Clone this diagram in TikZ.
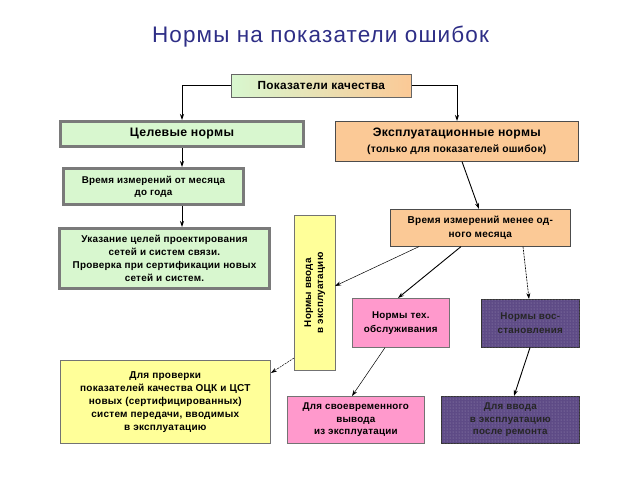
\documentclass[tikz,border=0pt]{standalone}
\usepackage{fontspec}
\setmainfont[LetterSpace=2.5]{Liberation Sans}
\newfontfamily\titlefont[LetterSpace=5]{Liberation Sans}
\usetikzlibrary{arrows.meta,patterns}
\definecolor{titleblue}{HTML}{2E2E86}
\definecolor{lgreen}{HTML}{D8F7CF}
\definecolor{peach}{HTML}{FBC996}
\definecolor{lyellow}{HTML}{FFFF99}
\definecolor{lpink}{HTML}{FF99CC}
\definecolor{dpurple}{HTML}{5E4B86}
\definecolor{gborder}{HTML}{7A7A7A}
\begin{document}
\begin{tikzpicture}[x=1pt,y=1pt,
  every node/.style={font=\bfseries\fontsize{9.8}{12}\selectfont, align=center, inner sep=0pt, anchor=north west},
  greenbox/.style={draw=gborder, line width=3pt, fill=lgreen},
  peachbox/.style={draw=black!70, line width=0.6pt, fill=peach},
  yellowbox/.style={draw=black!55, line width=0.6pt, fill=lyellow},
  pinkbox/.style={draw=black!55, line width=0.6pt, fill=lpink},
  purplebox/.style={draw=black!80, line width=0.6pt, fill=dpurple, text=black!85,
     postaction={pattern=dots, pattern color=dpurple!60!white}},
  arr/.style={-{Stealth[length=6pt,width=4pt]}, line width=0.9pt},
  thinarr/.style={-{Stealth[length=6pt,width=4pt]}, line width=0.5pt},
  dasharr/.style={-{Stealth[length=6pt,width=4pt]}, line width=0.7pt, dash pattern=on 2pt off 1pt}]
\useasboundingbox (0,0) rectangle (640,-480);
\node[font=\titlefont\fontsize{22.5}{26}\selectfont, text=titleblue, anchor=center] (title) at (320.5,-37) {Нормы на показатели ошибок};

\node[draw=black!60, line width=0.6pt, left color=lgreen, right color=peach, minimum width=180pt, minimum height=23pt, font=\bfseries\fontsize{11.8}{13}\selectfont] (pk) at (231,-74) {Показатели качества};
\node[greenbox, minimum width=243pt, minimum height=25pt, font=\bfseries\fontsize{12.3}{13}\selectfont] (cel) at (59,-120) {Целевые нормы};
\node[peachbox, minimum width=243pt, minimum height=40pt, font=\bfseries\fontsize{12.2}{15.5}\selectfont] (exp) at (335,-121) {Эксплуатационные нормы\\{\fontsize{10.3}{11}\selectfont(только для показателей ошибок)}};
\node[greenbox, minimum width=180pt, minimum height=36pt] (vr1) at (62,-167) {Время измерений от месяца\\до года};
\node[greenbox, minimum width=210pt, minimum height=60pt, font=\bfseries\fontsize{9.9}{13}\selectfont] (uk) at (58,-227) {Указание целей проектирования\\сетей и систем связи.\\Проверка при сертификации новых\\сетей и систем.};
\node[yellowbox, minimum width=41pt, minimum height=155pt] (nv) at (294,-215) {};
\node[rotate=90, anchor=center, font=\bfseries\fontsize{9.8}{12}\selectfont] (nvt) at (nv.center) {Нормы ввода\\в эксплуатацию};
\node[peachbox, minimum width=180pt, minimum height=37pt, font=\bfseries\fontsize{10}{14}\selectfont] (vr2) at (390,-209) {Время измерений менее од-\\ного месяца};
\node[pinkbox, minimum width=97pt, minimum height=49pt, font=\bfseries\fontsize{9.8}{14}\selectfont] (nto) at (352,-298) {Нормы тех.\\обслуживания};
\node[purplebox, minimum width=98pt, minimum height=48pt, font=\bfseries\fontsize{9.8}{14}\selectfont] (nvs) at (481,-299) {Нормы вос-\\становления};
\node[yellowbox, minimum width=210pt, minimum height=83pt, font=\bfseries\fontsize{10}{13}\selectfont] (dp) at (60,-360) {Для проверки\\показателей качества ОЦК и ЦСТ\\новых (сертифицированных)\\систем передачи, вводимых\\в эксплуатацию};
\node[pinkbox, minimum width=137pt, minimum height=47pt, font=\bfseries\fontsize{9.8}{12.5}\selectfont] (dsv) at (287,-396) {Для своевременного\\вывода\\из эксплуатации};
\node[purplebox, minimum width=138pt, minimum height=47pt, font=\bfseries\fontsize{9.8}{12.5}\selectfont] (dvv) at (441,-396) {Для ввода\\в эксплуатацию\\после ремонта};

\draw[arr] (pk.west) -| (cel.north -| 182,0);
\draw[arr] (pk.east) -| (exp.north -| 457,0);
\draw[arr] (cel.south -| 182,0) -- (vr1.north -| 182,0);
\draw[arr] (vr1.south -| 182,0) -- (uk.north -| 182,0);
\draw[arr] (exp.south -| 462,0) -- (vr2.north -| 479,0);
\draw[thinarr] (vr2.south -| 419,0) -- (335,-286);
\draw[arr] (vr2.south -| 461,0) -- (nto.north -| 398,0);
\draw[dasharr] (vr2.south -| 523,0) -- (nvs.north -| 529,0);
\draw[thinarr] (nto.south -| 385,0) -- (dsv.north -| 352,0);
\draw[arr] (nvs.south -| 530,0) -- (dvv.north -| 514,0);
\draw[dasharr, line width=0.5pt] (294,-358) -- (271,-373);
\end{tikzpicture}
\end{document}
